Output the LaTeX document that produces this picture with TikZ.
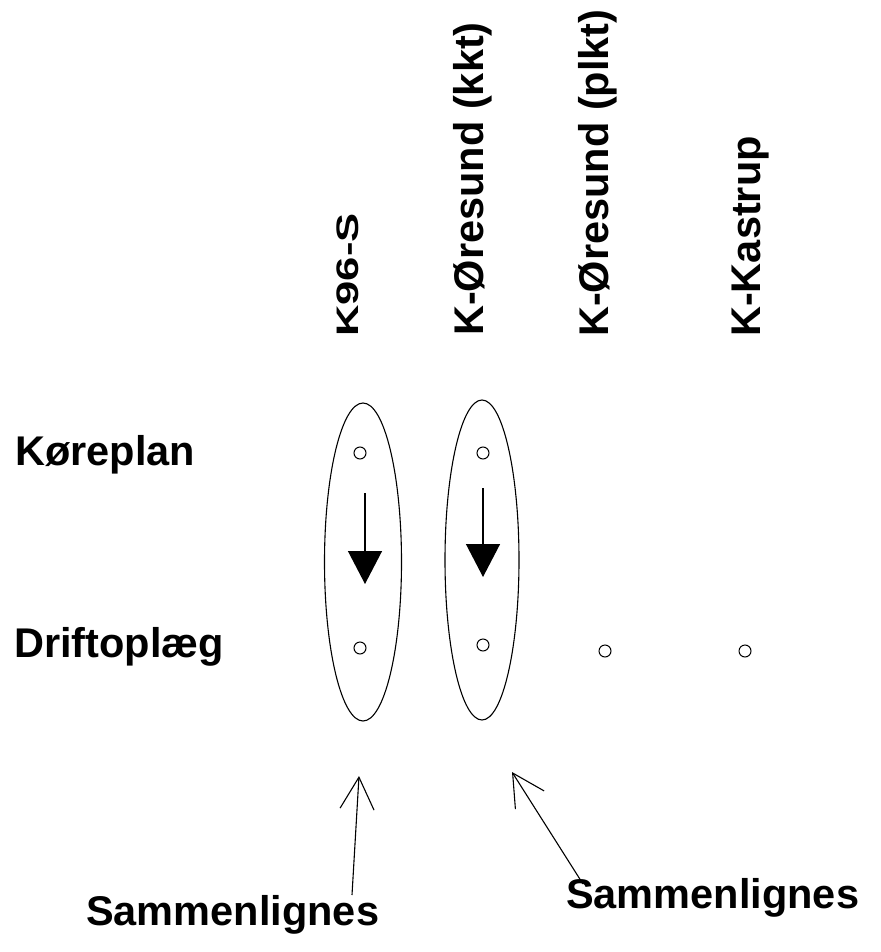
\documentclass[tikz,border=0pt]{standalone}
\usepackage{fontspec}
\setmainfont{Liberation Sans}
\usetikzlibrary{arrows.meta}
\begin{document}
\begin{tikzpicture}[x=1pt,y=-1pt,
  lbl/.style={inner sep=0pt,font=\fontsize{41.5}{48}\selectfont\bfseries},
  vlbl/.style={lbl,rotate=90,anchor=base west},
  hlbl/.style={lbl,anchor=base west},
  dot/.style={circle,draw,line width=1pt,minimum size=12pt,inner sep=0pt},
  flow/.style={line width=1.3pt,-{Triangle[length=33pt,width=34pt]}},
  cmp/.style={line width=1.1pt,-{Straight Barb[length=32pt,width=34pt,line width=1.1pt]}}
]
\useasboundingbox (0,0) rectangle (880,952);
% column labels
\node[vlbl] (c1) at (358,337) {\scalebox{1.05}[0.75]{K96-S}};
\node[vlbl] (c2) at (483,336) {K-Øresund (kkt)};
\node[vlbl] (c3) at (608,337) {K-Øresund (plkt)};
\node[vlbl] (c4) at (760,337) {K-Kastrup};
% row labels
\node[hlbl] (r1) at (15,465) {Køreplan};
\node[hlbl] (r2) at (14,657) {Driftoplæg};
% ellipses
\draw[line width=1.1pt] (363,562) ellipse [x radius=38.5, y radius=159];
\draw[line width=1.1pt] (482,560) ellipse [x radius=37, y radius=160];
\node[inner sep=0pt,minimum width=77pt,minimum height=318pt] (e1) at (363,562) {};
\node[inner sep=0pt,minimum width=74pt,minimum height=320pt] (e2) at (482,560) {};
% dots
\node[dot] (k1) at (360,453) {};
\node[dot] (k2) at (483,453) {};
\node[dot] (d1) at (360,648) {};
\node[dot] (d2) at (483,645) {};
\node[dot] (d3) at (605,651) {};
\node[dot] (d4) at (745,651) {};
% flow arrows
\coordinate (a1s) at (365,493);
\coordinate (a1e) at (365,584);
\coordinate (a2s) at (483,488);
\coordinate (a2e) at (483,577);
\draw[flow] (a1s) -- (a1e);
\draw[flow] (a2s) -- (a2e);
% bottom labels
\node[hlbl] (s1) at (86,925) {Sammenlignes};
\node[hlbl] (s2) at (566,908) {Sammenlignes};
\coordinate (b1s) at (352,895);
\coordinate (b1e) at (359,776);
\coordinate (b2s) at (583,884);
\coordinate (b2e) at (512,772);
\draw[cmp] (b1s) -- (b1e);
\draw[cmp] (b2s) -- (b2e);
\end{tikzpicture}
\end{document}
